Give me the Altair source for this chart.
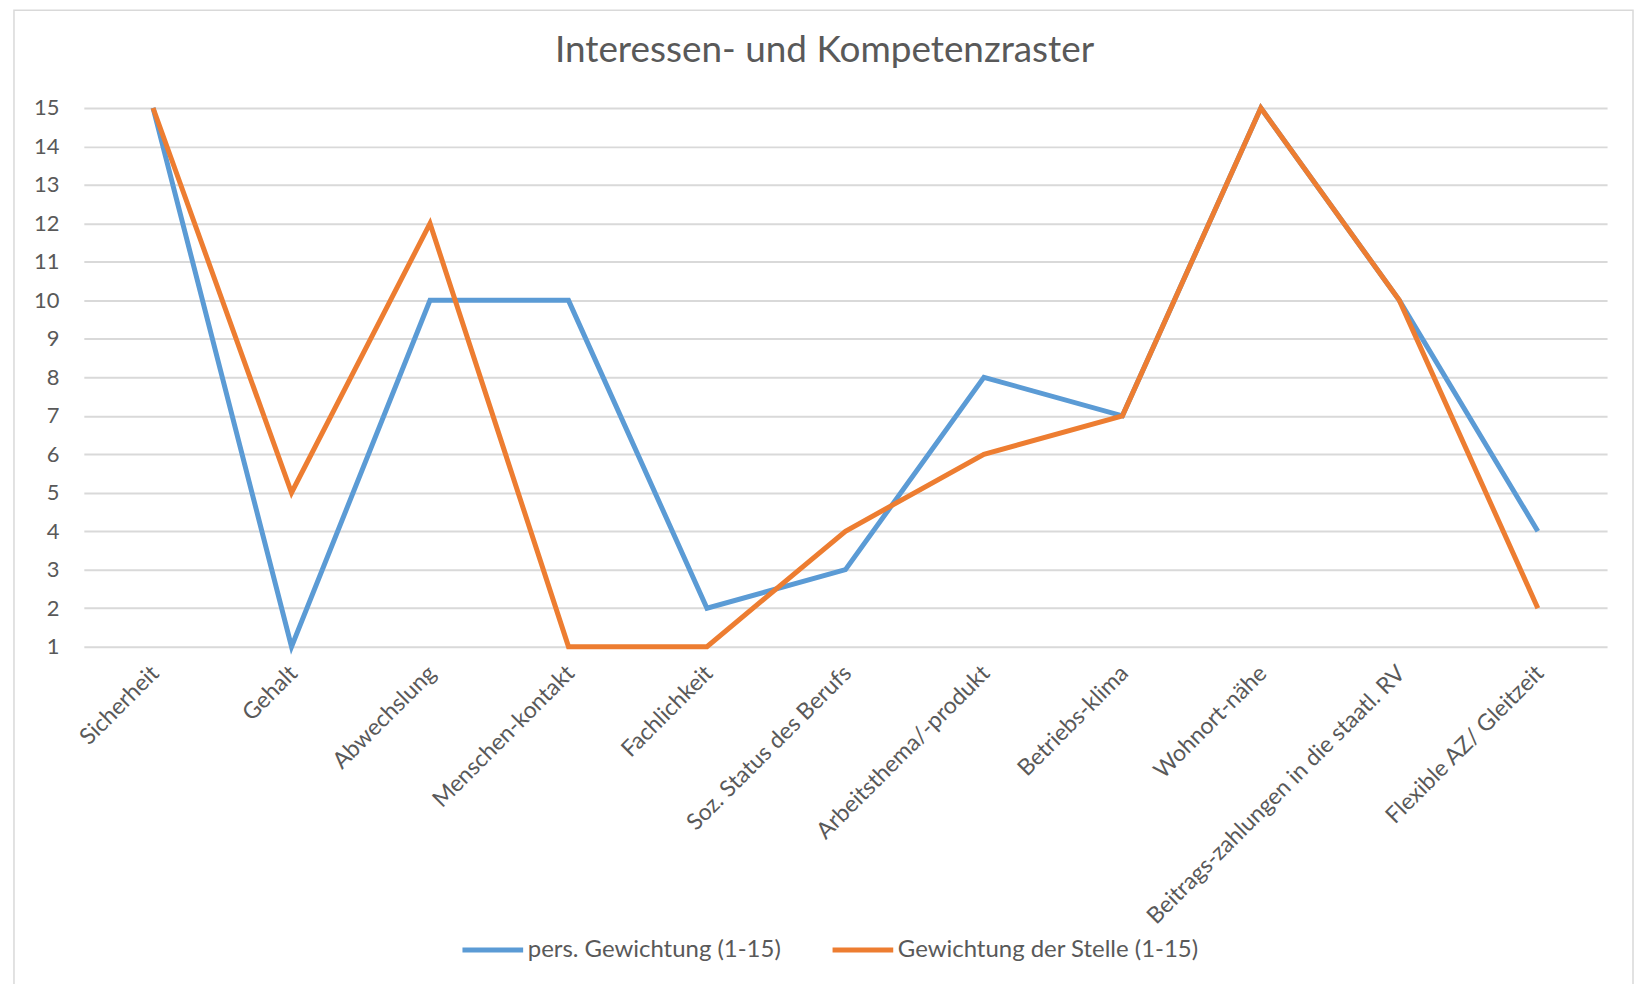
import altair as alt
import pandas as pd

categories = [
    "Sicherheit", "Gehalt", "Abwechslung", "Menschen-kontakt", "Fachlichkeit",
    "Soz. Status des Berufs", "Arbeitsthema/-produkt", "Betriebs-klima",
    "Wohnort-nähe", "Beitrags-zahlungen in die staatl. RV", "Flexible AZ/ Gleitzeit",
]
series_names = ["pers. Gewichtung (1-15)", "Gewichtung der Stelle (1-15)"]
pers_values = [15, 1, 10, 10, 2, 3, 8, 7, 15, 10, 4]
stelle_values = [15, 5, 12, 1, 1, 4, 6, 7, 15, 10, 2]
y_ticks = list(range(1, 16))
colors = ["#5B9BD5", "#ED7D31"]

rows = []
for i, c in enumerate(categories):
    rows.append({"Kategorie": c, "Reihe": series_names[0], "Wert": pers_values[i], "o": 0})
for i, c in enumerate(categories):
    rows.append({"Kategorie": c, "Reihe": series_names[1], "Wert": stelle_values[i], "o": 1})
df = pd.DataFrame(rows)

W, H = 1527, 540
FONT = "Lato"
GRAY = "#595959"

lines = alt.Chart(df).mark_line(strokeWidth=5).encode(
    x=alt.X("Kategorie:N", sort=categories, title=None,
            scale=alt.Scale(type="point", padding=0.5),
            axis=alt.Axis(labelAngle=-45, labelFontSize=23, labelColor=GRAY,
                          labelFont=FONT, ticks=False, domain=False, grid=False,
                          labelPadding=15, labelOffset=-6, labelLimit=600)),
    y=alt.Y("Wert:Q", title=None,
            scale=alt.Scale(domain=[1, 15], nice=False, zero=False),
            axis=alt.Axis(values=y_ticks, labelFontSize=22, labelColor=GRAY,
                          labelFont=FONT, ticks=False, domain=False,
                          gridColor="#D9D9D9", gridWidth=2, labelPadding=25)),
    color=alt.Color("Reihe:N", sort=series_names,
                    scale=alt.Scale(domain=series_names, range=colors),
                    legend=alt.Legend(title=None, orient="none", direction="horizontal",
                                      legendX=377, legendY=811,
                                      symbolType="stroke", symbolSize=3700,
                                      symbolStrokeWidth=5, labelFontSize=24,
                                      labelColor=GRAY, labelFont=FONT,
                                      labelOffset=2, columnPadding=41,
                                      labelLimit=600)),
    order=alt.Order("o:Q"),
)

frame = alt.Chart(pd.DataFrame({"a": [0]})).mark_rect(
    fill=None, stroke="#D9D9D9", strokeWidth=1.5
).encode(
    x=alt.value(-70), x2=alt.value(1553), y=alt.value(-98), y2=alt.value(890)
)

chart = alt.layer(frame, lines).properties(
    width=W, height=H,
    title=alt.Title("Interessen- und Kompetenzraster", fontSize=37, font=FONT,
                    color=GRAY, fontWeight="normal", offset=-61, dx=-21),
    padding={"left": 5, "top": 0, "right": 0, "bottom": 0},
).configure_view(stroke=None)

chart.save("out.html", embed_options={"renderer": "svg", "actions": False})
